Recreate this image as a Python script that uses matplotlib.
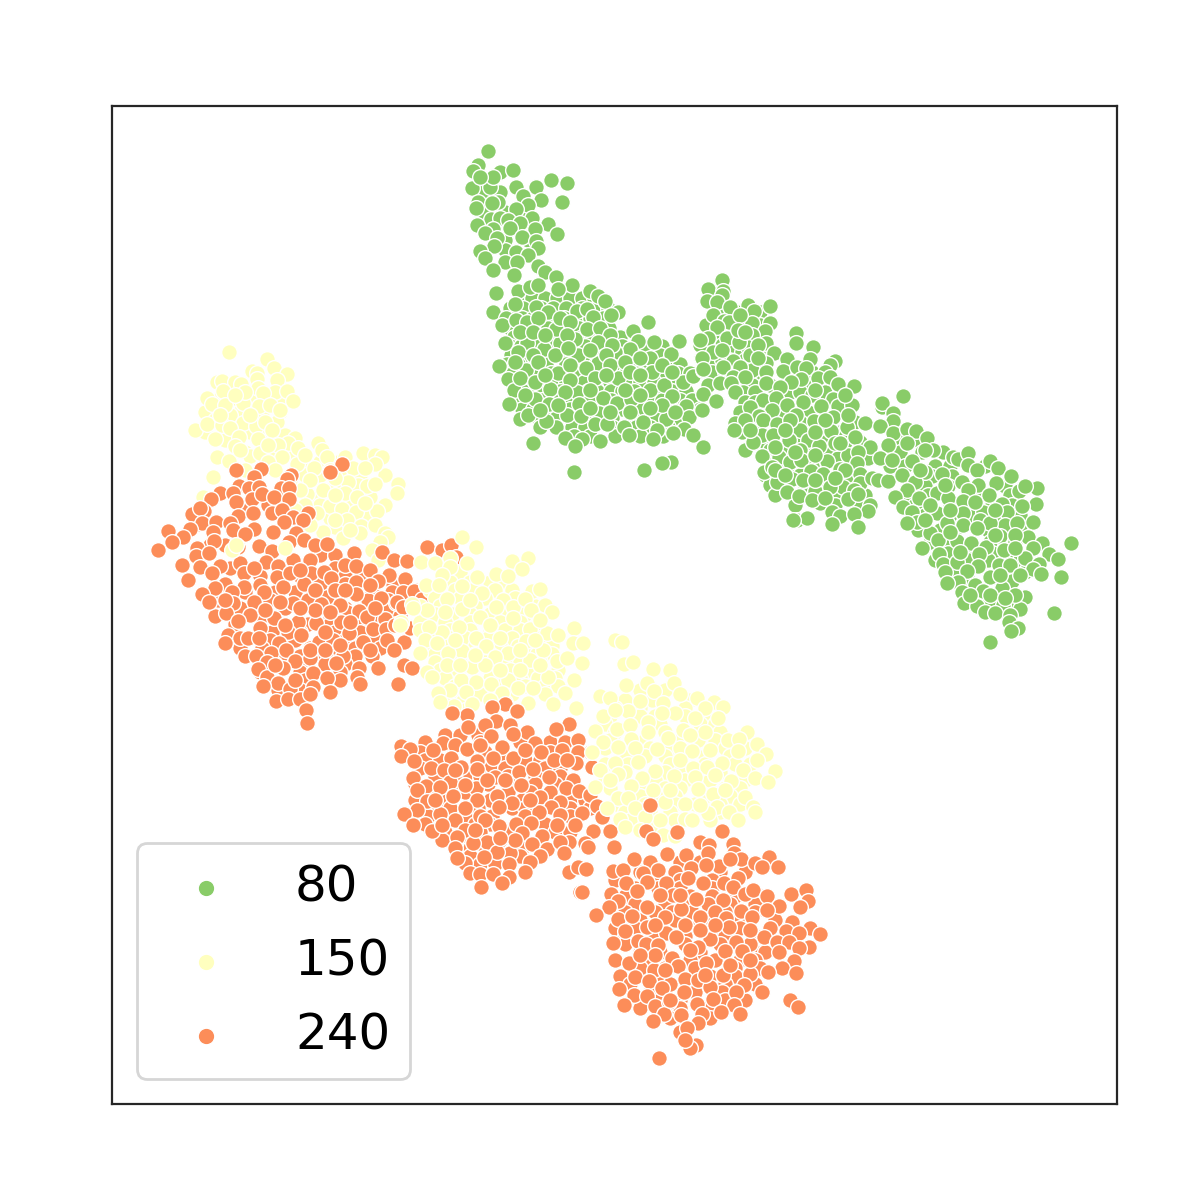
import matplotlib
matplotlib.use("Agg")
import matplotlib.pyplot as plt

GREEN = "#89cc68"
YELLOW = "#ffffbf"
ORANGE = "#fc8d59"
labels = ["80", "150", "240"]

# points: (x, y)
green_top = [(488,151),(478,165),(473,171),(500,172),(513,170),(472,188),(490,187),(516,187),(536,187),(551,180),(567,183),(493,177),(480,177),(478,202),(476,208),(498,202),(492,203),(523,196),(541,200),(562,202),(528,205),(516,209),(491,219),(500,218),(508,220),(532,218),(477,225),(520,223),(548,224),(493,229),(535,229),(557,234),(485,233),(510,228),(522,237),(497,238),(536,241),(494,246),(480,251),(538,248),(516,252),(528,255),(485,258),(505,262),(517,262),(493,270),(514,275),(538,266),(545,272)]
green_mid = [(556,277),(572,285),(496,293),(518,291),(530,287),(538,285),(558,289),(590,291),(598,296),(605,301),(493,312),(618,312),(611,315),(515,304),(536,307),(548,312),(577,311),(587,309),(593,317),(506,318),(502,325),(648,322),(633,331),(638,341),(630,349),(615,352),(654,342),(671,354),(679,341),(650,358),(505,343),(527,343),(560,343),(575,339),(587,329),(556,329),(544,349),(555,355),(578,355),(598,363),(499,366),(526,370),(558,373),(586,368),(618,378),(652,372),(508,379),(514,390),(550,389),(577,392),(603,398),(650,390),(664,385),(683,382),(693,376),(703,370),(701,358),(509,404),(535,399),(549,404),(579,404),(617,403),(631,399),(672,396),(703,394),(717,401),(700,409),(686,406),(520,419),(528,415),(546,421),(567,415),(581,416),(599,413),(595,424),(607,424),(624,427),(643,422),(666,419),(689,417),(684,429),(673,433),(693,435),(657,430),(653,439),(629,435),(600,441),(565,438),(582,439),(575,446),(533,443),(703,447),(671,462),(662,463),(644,470),(574,472),
 (516,320),(527,322),(538,318),(560,318),(570,322),(600,328),(610,335),(520,332),(533,332),(545,335),(567,335),(598,342),(612,345),(518,352),(533,355),(568,348),(590,350),(606,355),(515,362),(538,362),(570,365),(610,365),(625,362),(640,358),(520,378),(535,382),(545,375),(570,380),(595,378),(606,375),(630,372),(640,375),(662,365),(672,372),(525,395),(565,392),(590,390),(625,390),(640,395),(662,405),(540,410),(558,405),(590,408),(610,412),(630,412),(650,408),(675,412)]
green_second = [(722,280),(708,289),(723,291),(707,301),(722,295),(717,302),(730,307),(748,305),(754,311),(770,306),(713,315),(724,321),(729,322),(752,323),(770,323),(765,331),(717,327),(727,338),(752,335),(708,338),(700,340),(748,347),(739,342),(766,343),(713,352),(774,353),(702,358),(733,361),(750,355),(723,367),(766,363),(703,369),(752,370),(740,367),(733,377),(766,372),(745,377),(720,383),(731,383),(743,392),(735,392),(703,394),(716,401),(702,410),(740,315),(738,330),(722,350),(745,332),(758,345),(758,358)]
green_third = [(796,333),(796,343),(813,347),(787,359),(810,359),(835,361),(830,365),(783,371),(797,367),(806,368),(825,372),(801,379),(818,378),(830,377),(791,382),(838,384),(854,386),(766,383),(780,387),(812,395),(763,400),(776,398),(833,399),(787,405),(803,402),(821,406),(750,407),(772,410),(838,406),(852,405),(759,416),(796,415),(814,421),(833,417),(735,423),(745,420),(763,420),(777,424),(734,430),(800,430),(831,431),(847,427),(865,423),(762,435),(773,435),(789,440),(808,440),(855,437),(753,442),(819,446),(835,443),(870,447),(762,456),(779,457),(800,450),(848,455),(858,452),(790,462),(827,461),(801,460),(857,463),(764,472),(772,467),(811,471),(823,474),(840,469),(860,474),(777,482),(792,479),(803,480),(843,487),(860,483),(787,492),(815,491),(830,487),(854,490),(799,496),(820,503),(812,500),(825,498),(848,499),(858,494),(870,505),(868,511),(832,512),(840,516),(854,514),(797,520),(807,518),(793,520),(832,524),(858,527),(872,478),(878,480),(888,481),
 (815,390),(845,395),(790,420),(825,420),(848,415),(785,430),(815,432),(750,430),(775,447),(795,452),(815,455),(840,443),(845,470),(775,470),(785,475),(815,480),(835,478)]
green_fourth = [(903,396),(882,407),(882,403),(893,413),(893,421),(880,426),(893,433),(907,429),(916,431),(927,438),(888,445),(907,443),(933,450),(880,458),(892,460),(912,461),(902,475),(925,472),(953,457),(958,459),(968,453),(968,465),(977,470),(990,461),(998,468),(1011,476),(942,474),(996,483),(978,485),(962,482),(915,482),(907,490),(895,497),(919,498),(937,493),(968,490),(989,495),(1019,491),(1037,488),(1025,486),(948,498),(963,501),(1002,504),(1036,504),(1022,506),(903,507),(912,512),(937,513),(963,513),(983,512),(1007,512),(917,522),(907,523),(947,523),(980,520),(1033,522),(1005,525),(990,523),(1017,523),(930,533),(963,525),(977,528),(1000,536),(1028,537),(938,540),(957,541),(971,543),(922,548),(1042,543),(1071,543),(1033,548),(1004,550),(986,547),(939,554),(979,554),(1049,554),(1058,559),(1025,558),(943,564),(978,566),(999,565),(1010,565),(1039,564),(957,562),(1033,569),(1041,574),(1061,577),(945,572),(967,571),(990,577),(1012,581),(958,582),(947,583),(975,585),(983,591),(1002,588),(962,592),(1025,597),(964,603),(977,606),(1003,605),(1020,609),(985,612),(995,613),(1010,615),(1009,622),(1018,628),(1011,631),(1054,613),(990,642),
 (925,450),(920,470),(945,485),(930,505),(950,510),(925,520),(975,502),(995,510),(1015,535),(1015,548),(960,552),(995,535),(950,532),(1020,575),(1000,575),(1015,595),(990,595),(970,595),(1005,598)]
yellow_top = [(229,352),(267,359),(274,368),(252,371),(257,373),(287,374),(277,380),(217,382),(222,381),(235,382),(241,384),(257,379),(258,388),(223,391),(207,398),(212,404),(275,392),(287,391),(293,401),(263,393),(243,403),(259,406),(270,405),(230,415),(195,430),(207,424),(222,425),(243,423),(256,426),(277,422),(265,422),(230,428),(215,439),(239,437),(258,439),(285,435),(235,446),(272,430),(295,438),(288,443),(278,445),(298,448),(217,457),(229,461),(250,456),(282,457),(260,453),(268,462),(297,464),(213,477),(203,497),(318,443),(322,450),(327,457),(345,457),(363,453),(375,455),(382,457),(375,464),(353,468),(365,468),(314,468),(348,482),(367,486),(375,484),(398,484),(397,493),(307,494),(323,490),(345,493),(357,497),(330,506),(342,509),(356,512),(377,511),(365,503),(317,513),(347,520),(361,526),(375,525),(323,532),(343,538),(360,533),(385,533),(388,537),(380,542),(372,550),(378,560),
 (245,392),(225,405),(235,395),(250,415),(280,410),(220,415),(268,445),(305,455),(310,480),(335,478),(305,505),(335,520),(335,495),(310,525),(350,530),(295,510),(300,490),(245,470),(275,470),(330,470),(290,480),(240,450)]
orange_left = [(236,470),(261,469),(254,477),(291,475),(287,479),(342,464),(330,472),(239,486),(249,488),(259,487),(281,488),(289,488),(220,493),(211,499),(233,493),(252,499),(262,494),(274,497),(289,499),(236,502),(192,514),(204,511),(200,508),(238,516),(253,513),(272,513),(282,510),(308,513),(293,517),(202,523),(216,522),(230,523),(284,522),(303,520),(168,531),(190,529),(213,532),(233,530),(254,529),(273,532),(296,533),(183,537),(172,542),(214,541),(245,534),(289,542),(304,540),(315,545),(327,544),(158,550),(197,548),(238,547),(259,546),(272,551),(196,556),(209,553),(293,560),(310,560),(354,553),(382,552),(427,548),(443,550),(182,565),(200,567),(220,566),(240,563),(266,562),(278,566),(345,565),(356,566),(394,560),(407,560),(212,573),(244,573),(254,568),(311,573),(324,572),(370,570),(389,575),(188,580),(277,577),(331,578),(356,582),(378,581),(405,579),(244,587),(215,588),(232,592),(260,585),(283,587),(304,584),(202,594),(264,592),(327,597),(356,594),(381,598),(403,592),(415,590),(209,602),(233,603),(254,602),(293,603),(321,604),(347,612),(359,611),(396,603),(226,613),(250,615),(274,618),(238,621),(298,622),(316,623),(367,617),(385,619),(260,628),(288,632),(341,622),(373,629),(386,629),(409,627),(228,635),(240,638),(248,638),(259,638),(301,635),(349,633),(225,643),(279,643),(319,642),(333,640),(363,642),(387,640),(404,642),(394,650),(271,653),(256,656),(286,650),(343,656),(295,661),(267,662),(336,663),(310,658),(258,669),(359,668),(378,668),(404,665),(412,668),(283,668),(313,673),(357,677),(267,677),(278,683),(327,678),(360,684),(398,684),(263,686),(290,689),(313,687),(330,692),(276,701),(288,699),(300,699),(310,694),(306,710),(307,723),
 (427,547),(442,550),(451,545),(456,557),(407,561),(414,591),(422,599),(397,602),(403,607),(410,628),(290,573),(300,570),(335,590),(345,590),(370,585),(315,590),(340,605),(375,608),(315,610),(330,612),(300,608),(280,602),(265,610),(350,622),(325,632),(310,650),(325,650),(340,645),(285,625),(225,600),(395,625),(370,650),(275,665),(295,680)]
yellow_mid = [(462,537),(476,547),(421,562),(467,563),(512,561),(528,558),(522,569),(496,574),(508,576),(450,558),(435,563),(450,567),(442,575),(477,577),(426,585),(462,586),(439,585),(482,593),(532,591),(540,589),(447,599),(503,600),(412,604),(427,610),(462,609),(496,607),(513,607),(525,599),(545,605),(552,612),(401,623),(480,617),(531,610),(442,632),(459,627),(429,627),(513,618),(530,629),(547,633),(558,635),(574,628),(476,638),(500,638),(425,640),(437,643),(526,641),(573,643),(583,643),(462,651),(486,646),(508,653),(420,653),(543,650),(448,653),(495,657),(530,660),(557,661),(567,658),(582,663),(447,665),(472,667),(427,672),(432,677),(548,677),(461,680),(476,682),(508,680),(574,680),(491,684),(450,690),(438,693),(466,692),(518,688),(533,688),(565,693),(502,693),(454,706),(472,704),(440,702),(528,703),(553,704),(576,708),(490,700),
 (445,612),(470,600),(490,625),(520,650),(485,665),(520,670),(540,665),(455,640),(475,655),(500,670),(460,665),(535,640),(540,620)]
orange_center = [(505,704),(492,707),(517,711),(467,715),(452,713),(569,724),(556,729),(496,721),(468,727),(485,725),(510,725),(527,732),(491,736),(513,734),(578,740),(401,746),(410,749),(443,743),(455,745),(467,749),(502,747),(535,743),(541,752),(562,750),(401,756),(414,761),(433,750),(451,758),(493,758),(513,758),(578,752),(576,763),(554,760),(477,761),(431,768),(444,770),(461,767),(477,769),(519,772),(533,769),(592,767),(567,760),(413,778),(450,782),(495,777),(549,777),(573,780),(426,786),(440,787),(521,785),(476,788),(566,788),(579,791),(590,795),(417,790),(453,796),(497,796),(540,797),(427,801),(477,800),(512,803),(560,802),(597,806),(417,810),(440,814),(404,814),(465,808),(499,807),(551,807),(539,812),(582,813),(480,816),(560,815),(602,817),(455,820),(413,825),(499,826),(516,824),(531,823),(575,825),(557,825),(432,831),(465,830),(442,825),(522,833),(542,836),(593,831),(610,831),(487,842),(457,837),(532,844),(569,842),(585,843),(455,848),(547,849),(614,847),(560,842),(473,843),(510,853),(497,852),(465,863),(457,858),(484,857),(540,856),(564,853),(588,847),(530,862),(509,864),(569,872),(578,867),(586,869),(525,872),(470,873),(480,874),(493,874),(509,877),(481,887),(502,883),(580,892),
 (480,745),(525,750),(465,785),(505,780),(530,800),(455,770),(487,780),(435,800),(485,820),(515,840),(475,830),(500,838)]
yellow_right = [(615,640),(622,642),(624,664),(633,662),(653,669),(670,670),(626,685),(674,683),(647,683),(600,696),(610,698),(654,691),(680,694),(697,698),(640,701),(714,702),(723,707),(705,708),(663,703),(628,711),(603,716),(675,713),(662,713),(718,718),(695,718),(648,722),(617,729),(595,731),(630,725),(683,730),(648,732),(747,732),(728,740),(739,739),(705,732),(668,738),(631,739),(603,742),(757,744),(635,748),(618,747),(657,749),(692,751),(710,750),(738,751),(592,752),(766,754),(757,760),(615,763),(680,760),(722,763),(638,762),(600,770),(775,771),(743,770),(655,771),(693,768),(707,767),(618,774),(642,778),(674,776),(695,777),(731,781),(755,778),(768,782),(595,787),(631,786),(653,790),(713,794),(745,797),(618,798),(698,789),(628,798),(665,802),(685,804),(717,807),(753,807),(755,812),(607,808),(635,808),(708,813),(729,812),(685,819),(620,819),(660,820),(692,820),(738,820),(645,817),(625,827),(663,835),(675,836),
 (615,710),(690,735),(670,790),(650,805),(610,780),(725,790),(700,805),(715,775),(640,830)]
orange_low = [(677,832),(722,831),(646,831),(653,839),(700,842),(709,845),(614,847),(733,844),(734,853),(741,859),(769,857),(755,863),(762,867),(778,867),(667,854),(686,855),(634,859),(708,853),(719,866),(730,859),(613,871),(623,870),(658,870),(691,868),(706,865),(643,873),(626,883),(647,882),(666,883),(688,878),(703,883),(724,883),(738,878),(637,891),(611,894),(582,892),(673,895),(696,899),(733,887),(745,894),(753,890),(618,901),(647,907),(723,900),(767,896),(791,894),(806,890),(808,901),(800,907),(779,906),(609,907),(596,915),(681,909),(715,912),(741,911),(767,910),(618,919),(632,916),(665,917),(700,917),(752,917),(726,918),(792,922),(685,925),(729,927),(647,927),(625,931),(666,933),(786,931),(810,928),(799,933),(820,934),(613,943),(638,941),(646,944),(658,945),(676,937),(710,939),(764,937),(750,944),(736,942),(777,942),(789,942),(698,947),(809,947),(799,948),(725,951),(742,951),(779,952),(629,963),(672,958),(654,970),(706,963),(794,961),(678,966),(782,968),(768,972),(750,974),(723,975),(796,973),(635,977),(685,979),(698,980),(649,981),(619,989),(662,988),(744,985),(710,987),(684,992),(736,992),(762,992),(634,995),(647,996),(713,999),(624,1005),(655,1006),(669,1002),(697,1004),(734,1005),(790,1000),(798,1007),(664,1014),(681,1015),(721,1012),(740,1014),(702,1014),(653,1021),(698,1023),(680,1032),(687,1028),(696,1045),(690,1048),(659,1058),(685,1040),(650,805),
 (655,955),(690,950),(640,955),(705,975),(750,960),(665,970),(715,925),(750,930),(680,895),(660,895),(655,925),(700,930),(730,965),(670,1000)]
yellow_stray = [(232,550),(236,545),(285,548),(413,608),(401,622),(400,625)]

# denser interior points, read row by row: (y, [x, ...])
green_top_rows = [(180,[485]),(192,[484,500]),(212,[484,505,522]),(240,[505,528]),(250,[505])]
green_mid_rows = [(298,[520,532,545,557,570,582,594]),(308,[510,523,541,553,566,582,597,608]),(318,[512,522,533,549,564,577,590,603]),(328,[510,524,537,548,569,579,597,609]),(337,[514,530,541,552,566,582,592,606,620]),(346,[510,521,536,550,570,585,598,607,622,645,662]),(355,[511,524,538,549,566,587,600,622,634,660,672]),(364,[507,518,535,546,566,578,596,606,620,634,645,665,680]),(373,[513,529,540,551,566,576,592,607,626,638,660,678,690]),(382,[516,528,541,556,566,584,596,610,628,640,654,672]),(391,[523,538,560,570,588,597,611,622,634,660,672,686]),(400,[518,528,542,560,570,590,611,624,640,652,662,680,692]),(409,[522,533,548,570,590,602,622,640,658,672]),(418,[538,556,575,590,612,632,655,678]),(427,[540,556,572,585,612,636,650,668]),(436,[574,590,615,640,663])]
green_second_rows = [(312,[722,737,760]),(325,[706,738,760]),(333,[716,735,760]),(345,[700,722,733]),(352,[742,758]),(360,[712,722,745]),(372,[712,725,757]),(385,[708,752])]
green_third_rows = [(372,[812]),(385,[770,805]),(392,[755,790,800,825,840]),(402,[745,755]),(412,[740,785,808,845]),(422,[800,855]),(432,[742,755,790,825,840]),(442,[765,798,825,845,860]),(450,[745,770,788,808,830]),(458,[770,812,838,868]),(466,[780,795,812,850]),(475,[765,800,848]),(485,[770,805,822]),(495,[775,808,838,865]),(505,[795,835,858])]
green_fourth_rows = [(440,[898,918]),(452,[900,922,943]),(466,[890,905,935,950,985]),(476,[932,952]),(486,[925,948,1005]),(495,[910,928,978,1010]),(505,[915,925,950,972,992,1012]),(515,[925,950,972,995,1020]),(530,[918,940,955,988,1010,1020]),(542,[930,948,990,1015]),(553,[948,968,992,1015]),(560,[935,968,988,1020]),(572,[955,1000,1025]),(580,[968,1000]),(592,[1012,975]),(600,[970,990,1012])]
yellow_top_rows = [(398,[220,235,250,268,283]),(412,[205,240,262,280]),(420,[215]),(432,[205,250,265]),(440,[225,270]),(452,[245,272,290]),(462,[305,320,338]),(475,[305,320,340,360,385]),(485,[335,358]),(497,[315,335,370]),(505,[320,350,385]),(518,[330,368]),(527,[335])]
orange_left_rows = [(505,[245,268]),(525,[195]),(545,[210,225]),(555,[320,335]),(568,[230,295,335]),(576,[260,300,345,365]),(584,[225,320,345,393]),(592,[245,275,295,312,372,392]),(600,[218,270,308,332,368,388,408]),(608,[240,285,345,390]),(616,[215,262,330,352,375,400]),(624,[235,308,330,360,396]),(632,[272,300,335,360]),(640,[270,295,345,375]),(648,[240,262,310,330,355,380]),(656,[245,280,300,325,355,372]),(664,[275,300,325,345]),(672,[260,300,340]),(680,[270,305,340]),(690,[278,300])]
yellow_mid_rows = [(572,[460]),(582,[450,470,490,505]),(590,[430,455,472,495,512]),(598,[435,460,485,515]),(606,[420,440,475,505,535]),(614,[435,452,470,490,505,525]),(622,[420,445,470,500,520,540]),(630,[420,450,470,490,505,520,540]),(638,[430,450,465,488,512,540,555]),(646,[430,445,475,500,518,535,552]),(654,[435,475,490,525,537,552]),(662,[435,460,485,505,520,540]),(670,[440,458,492,510,530,558]),(678,[445,490,520,538,555]),(686,[455,480,500,525,545,558]),(694,[450,480,512,545]),(702,[462,505]),(710,[465])]
orange_center_rows = [(735,[445,460,478,525]),(742,[425,480,520,550,565]),(752,[420,485,525,550,590]),(760,[425,440,505,525,540]),(768,[420,490,505,545,560]),(776,[435,465,480,508,535,560]),(784,[415,460,488,510,535,555]),(792,[430,465,508,530,550,570]),(800,[415,445,490,522,570,585]),(808,[430,450,478,512,525,570,590]),(816,[428,465,492,525,570]),(824,[425,475,490,545]),(832,[445,480,508,555,570]),(840,[442,470,500,520]),(848,[470,485,522]),(856,[470,520]),(864,[480,495])]
yellow_right_rows = [(690,[640,665]),(700,[625,652,690]),(708,[615,640,685]),(716,[610,640,655,685,705]),(724,[605,660,700,715]),(732,[615,665,720]),(740,[610,645,680,698,715]),(748,[605,650,670,680,725,745]),(756,[625,645,665,705,730]),(764,[605,628,670,705,735,750]),(772,[625,665,680,720]),(780,[605,655,685,710,745]),(788,[610,640,665,680,725,740]),(796,[640,660,675,705,730]),(804,[615,645,675,695,720,740]),(812,[625,650,670,720]),(820,[630,675,710]),(828,[650])]
orange_low_rows = [(862,[650,680,700]),(872,[640,675,720,745]),(880,[615,655,680,712]),(888,[635,658,680,712]),(896,[625,660,690,712,735,760]),(904,[635,665,690,708,730,755]),(912,[625,655,672,692,725,755]),(920,[640,675,712,738,775]),(928,[615,635,660,695,715,740,770]),(936,[625,655,685,725,755]),(944,[625,685,720]),(952,[640,660,700,755,765]),(960,[615,650,690,715,740,755]),(968,[640,665,695,735,760]),(976,[620,660,710,735]),(984,[630,670,725,755]),(992,[650,695,722]),(1000,[660,680,725,745]),(1008,[640,680,708]),(1018,[670,710])]

clusters = [(green_top_rows, green_top, GREEN), (green_mid_rows, green_mid, GREEN),
            (green_second_rows, green_second, GREEN), (green_third_rows, green_third, GREEN),
            (green_fourth_rows, green_fourth, GREEN), (yellow_top_rows, yellow_top, YELLOW),
            (orange_left_rows, orange_left, ORANGE), (yellow_mid_rows, yellow_mid, YELLOW),
            (orange_center_rows, orange_center, ORANGE), (yellow_right_rows, yellow_right, YELLOW),
            (orange_low_rows, orange_low, ORANGE), ([], yellow_stray, YELLOW)]

fig = plt.figure(figsize=(5.98, 5.98), dpi=200)
ax = fig.add_axes([112/1196, 1 - 1104/1196, (1117-112)/1196, (1104-106)/1196])
MARK = dict(s=32, edgecolors="white", linewidths=0.5)
for rows, pts, c in clusters:
    xs = [x for y, row in rows for x in row] + [p[0] for p in pts]
    ys = [y for y, row in rows for x in row] + [p[1] for p in pts]
    ax.scatter(xs, ys, c=c, **MARK)
ax.set_xlim(112, 1117)
ax.set_ylim(1104, 106)
ax.set_xticks([])
ax.set_yticks([])
for s in ax.spines.values():
    s.set_color("#262626")
handles = [ax.scatter([], [], s=36, c=c, edgecolors="white", linewidths=0.5) for c in (GREEN, YELLOW, ORANGE)]
ax.legend(handles, labels, loc="lower left", fontsize=18, handlelength=1.96, labelspacing=0.52)
fig.savefig("out.png", dpi=200)
